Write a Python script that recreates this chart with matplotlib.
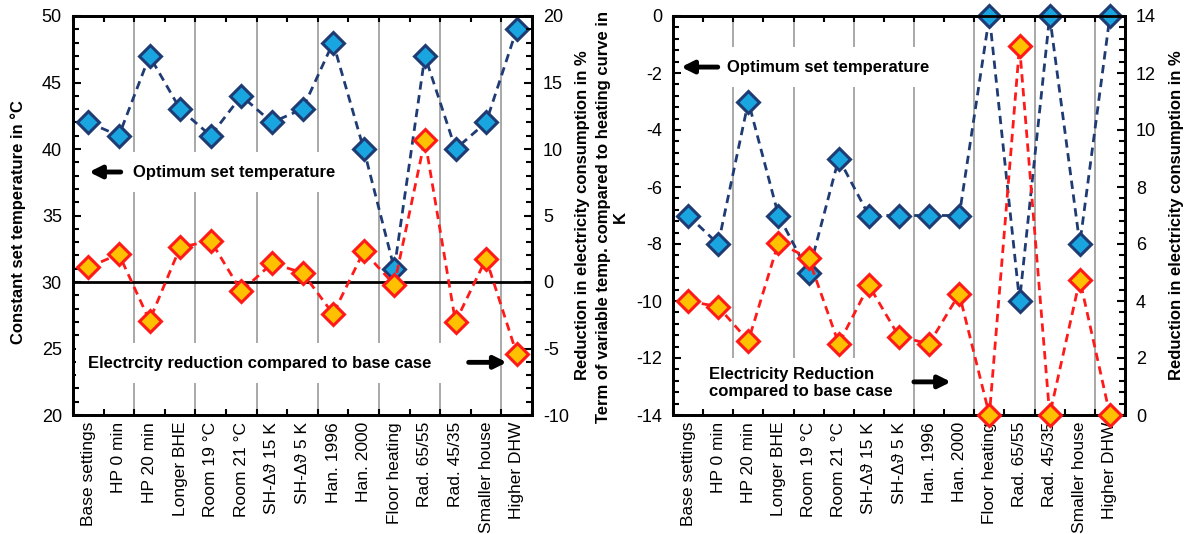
import matplotlib
matplotlib.use("Agg")
import matplotlib.pyplot as plt
from matplotlib.ticker import AutoMinorLocator, MultipleLocator
import numpy as np

plt.rcParams['font.family'] = ['Liberation Sans', 'DejaVu Sans']
plt.rcParams['font.size'] = 12
plt.rcParams['axes.unicode_minus'] = False

categories = ["Base settings", "HP 0 min", "HP 20 min", "Longer BHE", "Room 19 °C",
              "Room 21 °C", "SH-Δϑ 15 K", "SH-Δϑ 5 K", "Han. 1996", "Han. 2000",
              "Floor heating", "Rad. 65/55", "Rad. 45/35", "Smaller house", "Higher DHW"]

# Left chart: constant set temperature
const_set_temp = [42, 41, 47, 43, 41, 44, 42, 43, 48, 40, 31, 47, 40, 42, 49]
const_reduction = [1.1, 2.1, -2.9, 2.6, 3.1, -0.7, 1.4, 0.7, -2.4, 2.3, -0.2, 10.7, -3.0, 1.75, -5.4]

# Right chart: variable temperature term
var_term = [-7, -8, -3, -7, -9, -5, -7, -7, -7, -7, 0, -10, 0, -8, 0]
var_reduction = [4.0, 3.8, 2.6, 6.05, 5.5, 2.5, 4.55, 2.75, 2.5, 4.25, 0.0, 12.95, 0.0, 4.75, 0.0]

BLUE_LINE = '#1f3b73'
BLUE_FACE = '#19a6e0'
RED_LINE = '#ff1a1a'
RED_FACE = '#ffc000'

fig = plt.figure(figsize=(11.92, 5.34), dpi=100)
W, H = 1192, 534
axL = fig.add_axes([73 / W, 1 - 415 / H, 459 / W, 399 / H])
axR = fig.add_axes([673 / W, 1 - 415 / H, 452 / W, 399 / H])

x = np.arange(len(categories)) + 0.5


def style_axes(ax, ax2):
    ax.set_xlim(0, len(categories))
    ax.set_xticks(x)
    ax.set_xticklabels(categories, rotation=90, fontsize=12.5)
    ax.tick_params(axis='x', which='major', length=0, pad=5)
    ax.set_xticks(np.arange(0, len(categories) + 1), minor=True)
    ax.tick_params(axis='x', which='minor', direction='in', length=4, width=1.5,
                   top=True, bottom=True)
    for gx in range(2, len(categories), 2):
        ax.axvline(gx, color='#999999', lw=1.2, zorder=0)
    for a in (ax, ax2):
        a.tick_params(axis='y', which='major', direction='in', length=6, width=1.5,
                      labelsize=13, pad=8)
        a.tick_params(axis='y', which='minor', direction='in', length=4, width=1.5)
        a.yaxis.set_minor_locator(AutoMinorLocator(5))
        for s in a.spines.values():
            s.set_linewidth(2)
            s.set_color('black')


def draw_series(ax, ax2, yb, yr):
    ax.plot(x, yb, linestyle='--', dashes=(3, 2), color=BLUE_LINE, lw=2,
            marker='D', ms=11.5, mfc=BLUE_FACE, mec=BLUE_LINE, mew=2.2, zorder=3,
            clip_on=False)
    ax2.plot(x, yr, linestyle='--', dashes=(3, 2), color=RED_LINE, lw=2,
             marker='D', ms=11.5, mfc=RED_FACE, mec=RED_LINE, mew=2.2, zorder=3,
             clip_on=False)


def arrow(ax, x0, x1, y):
    ax.annotate('', xy=(x1, y), xytext=(x0, y), xycoords='axes fraction',
                textcoords='axes fraction',
                arrowprops=dict(arrowstyle='-|>', lw=3.5, color='black',
                                mutation_scale=18, shrinkA=0, shrinkB=0), zorder=6)


# ---------------- Left chart ----------------
axL2 = axL.twinx()
axL.set_ylim(20, 50)
axL.yaxis.set_major_locator(MultipleLocator(5))
axL2.set_ylim(-10, 20)
axL2.yaxis.set_major_locator(MultipleLocator(5))
style_axes(axL, axL2)
axL2.axhline(0, color='black', lw=2, zorder=2)
draw_series(axL, axL2, const_set_temp, const_reduction)

axL.text(0.131, 0.609, "Optimum set temperature", transform=axL.transAxes,
         fontweight='bold', ha='left', va='center', zorder=5,
         bbox=dict(facecolor='white', edgecolor='none', pad=9))
arrow(axL, 0.104, 0.035, 0.609)
axL.text(0.033, 0.130, "Electrcity reduction compared to base case",
         transform=axL.transAxes, fontweight='bold', ha='left', va='center', zorder=5,
         bbox=dict(facecolor='white', edgecolor='none', pad=9))
arrow(axL2, 0.862, 0.945, 0.132)

fig.text(18 / W, 1 - 222 / H, "Constant set temperature in °C", rotation=90,
         ha='center', va='center', fontweight='bold')
fig.text(583 / W, 1 - 215 / H, "Reduction in electricity consumption in %", rotation=90,
         ha='center', va='center', fontweight='bold')

# ---------------- Right chart ----------------
axR2 = axR.twinx()
axR.set_ylim(-14, 0)
axR.yaxis.set_major_locator(MultipleLocator(2))
axR2.set_ylim(0, 14)
axR2.yaxis.set_major_locator(MultipleLocator(2))
style_axes(axR, axR2)
draw_series(axR, axR2, var_term, var_reduction)

axR.text(0.119, 0.872, "Optimum set temperature", transform=axR.transAxes,
         fontweight='bold', ha='left', va='center', zorder=5,
         bbox=dict(facecolor='white', edgecolor='none', pad=9))
arrow(axR, 0.099, 0.018, 0.872)
axR.text(0.080, 0.080, "Electricity Reduction\ncompared to base case",
         transform=axR.transAxes, fontweight='bold', ha='left', va='center', zorder=5,
         linespacing=1.15, bbox=dict(facecolor='white', edgecolor='none', pad=7))
arrow(axR2, 0.533, 0.615, 0.083)

fig.text(612 / W, 1 - 217 / H, "Term of variable temp. compared to heating curve in\nK",
         rotation=90, ha='center', va='center', fontweight='bold',
         multialignment='center', linespacing=1.1)
fig.text(1177 / W, 1 - 215 / H, "Reduction in electricity consumption in %", rotation=90,
         ha='center', va='center', fontweight='bold')

fig.savefig("out.png", dpi=100)
